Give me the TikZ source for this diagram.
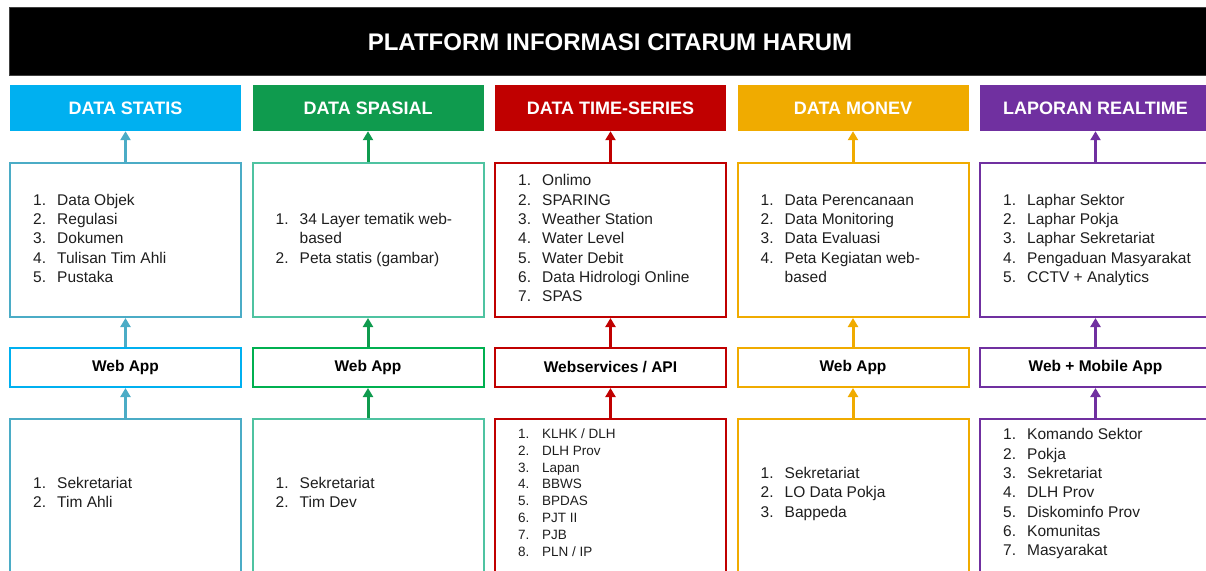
\documentclass[tikz,border=0pt]{standalone}
\usepackage{fontspec}
\setmainfont{Liberation Sans}
\usetikzlibrary{arrows.meta,calc}
\definecolor{cOneH}{HTML}{00B0F0}
\definecolor{cOneB}{HTML}{4BACC6}
\definecolor{cTwoH}{HTML}{0F9B4E}
\definecolor{cTwoB}{HTML}{4FC3A1}
\definecolor{cTwoW}{HTML}{00B050}
\definecolor{cThree}{HTML}{C00000}
\definecolor{cFour}{HTML}{F0AB00}
\definecolor{cFive}{HTML}{7030A0}
\definecolor{txtc}{HTML}{1E1E1E}
\newcommand{\colist}[3]{\fontsize{#1}{#2}\selectfont\begin{tabular}{@{}p{24pt}@{}l@{}}#3\end{tabular}}
\tikzset{
  hdr/.style={fill=#1, text=white, font=\bfseries\fontsize{18}{20}\selectfont, minimum width=231pt, minimum height=46pt, inner sep=0},
  bigbox/.style={draw=#1, line width=2pt, minimum width=231pt, minimum height=154pt, inner sep=0},
  lowbox/.style={draw=#1, line width=2pt, minimum width=231pt, minimum height=170pt, inner sep=0, anchor=north},
  webbox/.style={draw=#1, line width=2pt, minimum width=231pt, minimum height=39pt, inner sep=0, text=black, font=\bfseries\fontsize{15.5}{18}\selectfont},
  arw/.style={draw=#1, line width=3pt, -{Triangle[width=10pt,length=9pt]}},
  lst/.style={anchor=west, inner sep=0, text=txtc},
}
\begin{document}
\begin{tikzpicture}[x=1pt,y=-1pt]
\useasboundingbox (0,0) rectangle (1206,570);
% title
\node[fill=black, draw=black!75, line width=0.8pt, minimum width=1210pt, minimum height=68pt, inner sep=0, anchor=north west] (title) at (9,7) {};
\node[text=white, font=\bfseries\fontsize{24}{28}\selectfont, inner sep=0] (ttl) at (610,42) {PLATFORM INFORMASI CITARUM HARUM};
% headers
\node[hdr=cOneH] (h1) at (125.5,108) {DATA STATIS};
\node[hdr=cTwoH] (h2) at (368,108) {DATA SPASIAL};
\node[hdr=cThree] (h3) at (610.5,108) {DATA TIME-SERIES};
\node[hdr=cFour] (h4) at (853,108) {DATA MONEV};
\node[hdr=cFive] (h5) at (1095.5,108) {LAPORAN REALTIME};
% middle boxes
\node[bigbox=cOneB] (m1) at (125.5,240) {};
\node[bigbox=cTwoB] (m2) at (368,240) {};
\node[bigbox=cThree] (m3) at (610.5,240) {};
\node[bigbox=cFour] (m4) at (853,240) {};
\node[bigbox=cFive] (m5) at (1095.5,240) {};
% web boxes
\node[webbox=cOneH] (w1) at (125.5,367.5) {Web App};
\node[webbox=cTwoW] (w2) at (368,367.5) {Web App};
\node[webbox=cThree] (w3) at (610.5,367.5) {Webservices / API};
\node[webbox=cFour] (w4) at (853,367.5) {Web App};
\node[webbox=cFive] (w5) at (1095.5,367.5) {Web + Mobile App};
% bottom boxes
\node[lowbox=cOneB] (b1) at (125.5,418) {};
\node[lowbox=cTwoB] (b2) at (368,418) {};
\node[lowbox=cThree] (b3) at (610.5,418) {};
\node[lowbox=cFour] (b4) at (853,418) {};
\node[lowbox=cFive] (b5) at (1095.5,418) {};
% lists
\node[lst] (l1) at ($(m1.west)+(24,0)$) {\colist{15.5}{19.3}{1. & Data Objek\\ 2. & Regulasi\\ 3. & Dokumen\\ 4. & Tulisan Tim Ahli\\ 5. & Pustaka}};
\node[lst] (l2) at ($(m2.west)+(24,0)$) {\colist{15.5}{19.3}{1. & 34 Layer tematik web-\\ & based\\ 2. & Peta statis (gambar)}};
\node[lst] (l3) at ($(m3.west)+(24,0)$) {\colist{15.5}{19.3}{1. & Onlimo\\ 2. & SPARING\\ 3. & Weather Station\\ 4. & Water Level\\ 5. & Water Debit\\ 6. & Data Hidrologi Online\\ 7. & SPAS}};
\node[lst] (l4) at ($(m4.west)+(24,0)$) {\colist{15.5}{19.3}{1. & Data Perencanaan\\ 2. & Data Monitoring\\ 3. & Data Evaluasi\\ 4. & Peta Kegiatan web-\\ & based}};
\node[lst] (l5) at ($(m5.west)+(24,0)$) {\colist{15.5}{19.3}{1. & Laphar Sektor\\ 2. & Laphar Pokja\\ 3. & Laphar Sekretariat\\ 4. & Pengaduan Masyarakat\\ 5. & CCTV + Analytics}};
\node[lst] (k1) at ($(b1.north west)+(24,76)$) {\colist{15.5}{19.3}{1. & Sekretariat\\ 2. & Tim Ahli}};
\node[lst] (k2) at ($(b2.north west)+(24,76)$) {\colist{15.5}{19.3}{1. & Sekretariat\\ 2. & Tim Dev}};
\node[lst] (k3) at ($(b3.north west)+(24,76)$) {\colist{13.5}{16.9}{1. & KLHK / DLH\\ 2. & DLH Prov\\ 3. & Lapan\\ 4. & BBWS\\ 5. & BPDAS\\ 6. & PJT II\\ 7. & PJB\\ 8. & PLN / IP}};
\node[lst] (k4) at ($(b4.north west)+(24,76)$) {\colist{15.5}{19.3}{1. & Sekretariat\\ 2. & LO Data Pokja\\ 3. & Bappeda}};
\node[lst] (k5) at ($(b5.north west)+(24,76)$) {\colist{15.5}{19.3}{1. & Komando Sektor\\ 2. & Pokja\\ 3. & Sekretariat\\ 4. & DLH Prov\\ 5. & Diskominfo Prov\\ 6. & Komunitas\\ 7. & Masyarakat}};
% arrows
\draw[arw=cOneB] (m1.north) -- (h1.south);
\draw[arw=cOneB] (w1.north) -- (m1.south);
\draw[arw=cOneB] (b1.north) -- (w1.south);
\draw[arw=cTwoH] (m2.north) -- (h2.south);
\draw[arw=cTwoH] (w2.north) -- (m2.south);
\draw[arw=cTwoH] (b2.north) -- (w2.south);
\draw[arw=cThree] (m3.north) -- (h3.south);
\draw[arw=cThree] (w3.north) -- (m3.south);
\draw[arw=cThree] (b3.north) -- (w3.south);
\draw[arw=cFour] (m4.north) -- (h4.south);
\draw[arw=cFour] (w4.north) -- (m4.south);
\draw[arw=cFour] (b4.north) -- (w4.south);
\draw[arw=cFive] (m5.north) -- (h5.south);
\draw[arw=cFive] (w5.north) -- (m5.south);
\draw[arw=cFive] (b5.north) -- (w5.south);
\end{tikzpicture}
\end{document}
